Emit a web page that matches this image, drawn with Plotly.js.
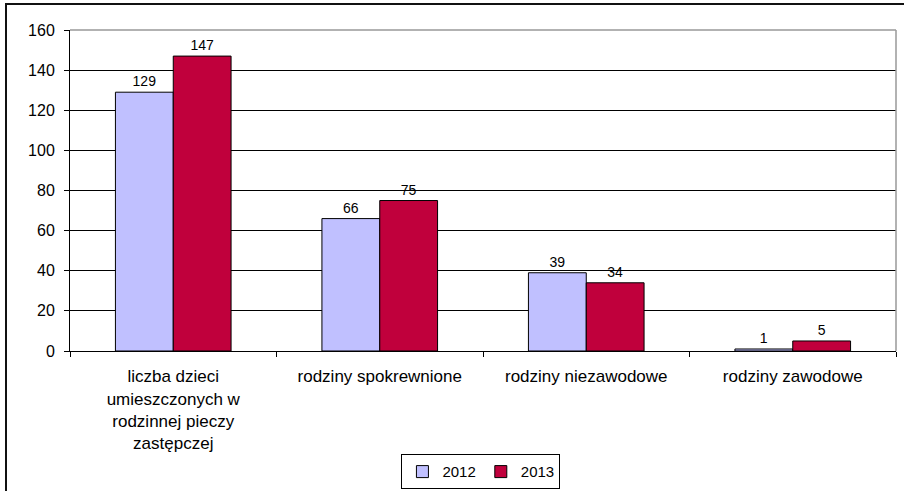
<!DOCTYPE html>
<html>
<head>
<meta charset="utf-8">
<script src="https://cdn.plot.ly/plotly-3.0.1.min.js"></script>
<style>
html,body{margin:0;padding:0;background:#fff;}
#wrap{position:absolute;left:0;top:0;width:904px;height:491px;overflow:hidden;}
#frame{position:absolute;left:5px;top:3px;width:904px;height:500px;border-left:2px solid #111;border-top:2px solid #111;pointer-events:none;}
#chart{position:absolute;left:0;top:0;width:904px;height:491px;}
</style>
</head>
<body>
<div id="wrap">
<div id="chart"></div>
<div id="frame"></div>
</div>
<script>
var categories = [
  "liczba dzieci<br>umieszczonych w<br>rodzinnej pieczy<br>zastępczej",
  "rodziny spokrewnione",
  "rodziny niezawodowe",
  "rodziny zawodowe"
];
var values2012 = [129, 66, 39, 1];
var values2013 = [147, 75, 34, 5];
var seriesNames = ["2012", "2013"];
var tickValues = [0, 20, 40, 60, 80, 100, 120, 140, 160];

var fam = "Liberation Sans, Arial, sans-serif";

var traces = [
  {
    type: "bar", name: seriesNames[0], x: categories, y: values2012,
    marker: {color: "#C0C0FF", line: {color: "#000", width: 1}},
    text: values2012.map(String), textposition: "outside", cliponaxis: false,
    textfont: {family: fam, size: 14, color: "#000"}
  },
  {
    type: "bar", name: seriesNames[1], x: categories, y: values2013,
    marker: {color: "#C0003C", line: {color: "#000", width: 1}},
    text: values2013.map(String), textposition: "outside", cliponaxis: false,
    textfont: {family: fam, size: 14, color: "#000"}
  }
];

var layout = {
  width: 904, height: 491,
  margin: {l: 70, r: 8, t: 30, b: 140},
  paper_bgcolor: "#fff", plot_bgcolor: "#fff",
  font: {family: fam, size: 15, color: "#000"},
  barmode: "group",
  bargap: 0.44, bargroupgap: 0,
  showlegend: true,
  legend: {
    orientation: "h",
    xref: "container", yref: "container",
    x: 0.532, xanchor: "center", y: 0.039, yanchor: "middle",
    bordercolor: "#000", borderwidth: 1,
    font: {family: fam, size: 15, color: "#000"},
    itemwidth: 30, traceorder: "normal", tracegroupgap: 0
  },
  xaxis: {
    type: "category",
    showline: true, linecolor: "#000", linewidth: 1,
    ticks: "outside", tickson: "boundaries", ticklen: 5, tickcolor: "#000",
    showgrid: false, tickfont: {family: fam, size: 17, color: "#000"},
    ticklabelstandoff: 10,
    automargin: false
  },
  yaxis: {
    range: [0, 160], tickvals: tickValues,
    showline: true, linecolor: "#000", linewidth: 1,
    ticks: "outside", ticklen: 5, tickcolor: "#000",
    showgrid: true, gridcolor: "#000", gridwidth: 1,
    zeroline: false, tickfont: {family: fam, size: 16, color: "#000"},
    ticklabelstandoff: 6,
    automargin: false
  },
  shapes: [
    {type: "line", xref: "paper", yref: "paper", x0: 0, x1: 1, y0: 1, y1: 1, line: {color: "#999", width: 1.5}},
    {type: "line", xref: "paper", yref: "paper", x0: 1, x1: 1, y0: 0, y1: 1, line: {color: "#999", width: 1.5}}
  ]
};

Plotly.newPlot("chart", traces, layout, {displayModeBar: false, staticPlot: true});
</script>
</body>
</html>
